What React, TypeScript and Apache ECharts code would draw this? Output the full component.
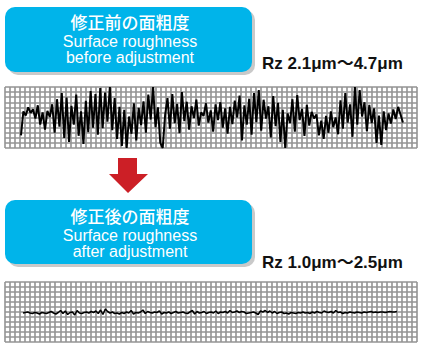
import React, { useEffect, useRef } from "react";
import * as echarts from "echarts";

// Surface profile before adjustment (grid units 0..12)
const beforeProfile: number[] = [
  2.5, 7.2, 6.4, 8.0, 6.9, 7.6, 5.8, 8.4, 4.6, 7.0,
  3.6, 7.3, 6.1, 8.6, 3.0, 9.6, 4.2, 10.8, 2.0, 9.9,
  1.2, 8.3, 4.6, 10.5, 2.4, 7.2, 0.8, 9.3, 3.1, 11.2,
  4.0, 10.6, 2.6, 11.8, 3.9, 10.9, 5.2, 12.0, 3.5, 9.8,
  1.8, 8.1, 0.4, 7.5, 0.0, 6.2, 2.8, 8.8, 1.5, 7.9,
  4.5, 9.2, 3.0, 10.5, 5.6, 12.0, 4.1, 8.0, 1.0, 0.0,
  6.5, 9.8, 3.8, 10.6, 4.9, 8.7, 2.9, 11.0, 5.3, 9.1,
  3.6, 8.2, 5.9, 9.5, 4.4, 7.0, 6.3, 8.8, 5.0, 7.4,
  3.2, 8.6, 5.5, 9.0, 4.0, 7.8, 2.8, 8.1, 4.7, 9.3,
  6.0, 10.3, 1.5, 8.4, 4.6, 9.7, 2.6, 10.8, 5.1, 11.4,
  3.4, 9.5, 5.8, 8.2, 2.1, 10.2, 4.3, 8.9, 1.2, 7.5,
  0.0, 6.8, 4.9, 9.6, 3.2, 10.4, 5.5, 7.7, 2.4, 8.5,
  4.4, 7.1, 5.8, 6.6, 2.5, 5.4, 1.8, 6.3, 3.0, 7.2,
  4.1, 6.0, 2.7, 9.4, 3.8, 10.8, 5.0, 8.6, 2.2, 12.0,
  4.6, 11.4, 6.2, 9.0, 3.3, 8.5, 4.9, 7.8, 1.0, 6.4,
  0.6, 7.2, 3.5, 6.8, 4.8, 7.6, 5.7, 8.1, 6.6, 5.0,
];

// Surface profile after adjustment (grid units 0..12)
const afterProfile: number[] = [
  5.8, 5.9, 6.0, 5.8, 5.7, 5.9, 5.8, 5.6, 5.9, 5.8,
  5.7, 5.9, 6.1, 5.8, 5.6, 5.9, 6.3, 5.7, 6.2, 5.5,
  5.9, 6.0, 5.4, 6.3, 5.8, 5.7, 5.9, 6.0, 5.8, 6.1,
  5.9, 6.2, 5.7, 6.4, 5.5, 6.6, 6.1, 5.8, 6.0, 5.7,
  5.8, 5.6, 5.9, 5.7, 6.0, 5.8, 6.3, 5.6, 5.9, 5.8,
  6.0, 6.4, 5.7, 6.1, 5.9, 5.8, 6.0, 5.9, 6.2, 5.6,
  5.9, 5.8, 6.0, 5.7, 5.9, 6.1, 5.8, 5.9, 6.0, 5.8,
  5.7, 6.0, 6.3, 5.6, 6.1, 5.8, 5.9, 6.1, 5.7, 5.9,
  6.0, 5.8, 6.2, 5.7, 6.0, 5.9, 6.1, 5.8, 6.3, 5.9,
  6.0, 6.2, 5.9, 6.1, 6.0, 5.7, 5.8, 5.9, 6.0, 5.8,
  5.5, 6.2, 6.0, 6.3, 5.9, 6.2, 5.8, 6.1, 5.7, 5.9,
  6.0, 5.7, 5.8, 5.6, 5.9, 5.8, 5.7, 5.9, 5.8, 6.0,
  5.8, 5.9, 5.7, 6.0, 5.8, 6.1, 5.9, 5.8, 6.2, 6.0,
  5.9, 6.1, 5.8, 6.3, 5.9, 6.0, 5.7, 5.9, 5.8, 6.0,
  5.9, 5.8, 6.0, 5.9, 5.8, 6.0, 5.9, 6.0, 6.1, 5.9,
  6.0, 5.9, 6.0, 6.0, 5.9, 6.0, 6.1, 6.0, 6.0, 6.1,
];

// sampled span along the chart paper (grid cells)
const beforeSpan = [3.18, 79.2];
const afterSpan = [3.58, 78.0];

const titlesJa = ["修正前の面粗度", "修正後の面粗度"];
const titlesEn1 = ["Surface roughness", "Surface roughness"];
const titlesEn2 = ["before adjustment", "after adjustment"];
const rzLabels = ["Rz 2.1μm〜4.7μm", "Rz 1.0μm〜2.5μm"];

const toSeries = (vals: number[], span: number[]) => {
  const step = (span[1] - span[0]) / (vals.length - 1);
  return vals.map((v, i) => [span[0] + i * step, v]);
};

const GRID_COLS = 82;
const GRID_ROWS = 12;

export default function App() {
  const ref = useRef<HTMLDivElement>(null);
  useEffect(() => {
    if (!ref.current) return;
    const chart = echarts.init(ref.current, undefined, { renderer: "svg" });
    const gridLine = { show: true, lineStyle: { color: "#939393", width: 1.6 } };
    const xAxisBase = {
      type: "value" as const,
      min: 0,
      max: GRID_COLS,
      interval: 1,
      axisLine: { show: false },
      axisTick: { show: false },
      axisLabel: { show: false },
      splitLine: gridLine,
    };
    const yAxisBase = {
      type: "value" as const,
      min: 0,
      max: GRID_ROWS,
      interval: 1,
      axisLine: { show: false },
      axisTick: { show: false },
      axisLabel: { show: false },
      splitLine: gridLine,
    };
    const boxes = [
      { top: 7, h: 65, jaY: 21, en1Y: 41, en2Y: 57, rzY: 63 },
      { top: 200, h: 64, jaY: 215, en1Y: 235, en2Y: 251, rzY: 262 },
    ];
    const graphics: any[] = [];
    const addText = (x: number, y: number, text: string, font: string, fill: string, align = "center") => {
      graphics.push({
        type: "text",
        x,
        y,
        style: { text, fill, font, align, verticalAlign: "middle" },
        z: 3,
      });
    };
    boxes.forEach((b, i) => {
      graphics.push({
        type: "rect",
        shape: { x: 8, y: b.top + 3, width: 247, height: b.h, r: 10 },
        style: { fill: "#c9c9c9" },
        z: 1,
      });
      graphics.push({
        type: "rect",
        shape: { x: 5, y: b.top, width: 247, height: b.h, r: 10 },
        style: { fill: "#00b4ea" },
        z: 2,
      });
      addText(130, b.jaY, titlesJa[i], "500 17px 'Noto Sans CJK JP'", "#ffffff");
      addText(130, b.en1Y, titlesEn1[i], "16px 'Liberation Sans'", "#ffffff");
      addText(130, b.en2Y, titlesEn2[i], "16px 'Liberation Sans'", "#ffffff");
      addText(262, b.rzY, rzLabels[i], "bold 17px 'Liberation Sans', 'Noto Sans CJK JP'", "#111111", "left");
    });
    graphics.push({
      type: "polygon",
      shape: {
        points: [
          [118, 158],
          [137, 158],
          [137, 174],
          [148, 174],
          [128, 193],
          [109, 174],
          [118, 174],
        ],
      },
      style: { fill: "#cc1f26" },
    });

    chart.setOption({
      animation: false,
      backgroundColor: "#ffffff",
      grid: [
        { left: 5, top: 87, width: 412, height: 61 },
        { left: 5, top: 282, width: 412, height: 60 },
      ],
      xAxis: [
        { ...xAxisBase, gridIndex: 0 },
        { ...xAxisBase, gridIndex: 1 },
      ],
      yAxis: [
        { ...yAxisBase, gridIndex: 0 },
        { ...yAxisBase, gridIndex: 1 },
      ],
      series: [
        {
          type: "line",
          xAxisIndex: 0,
          yAxisIndex: 0,
          data: toSeries(beforeProfile, beforeSpan),
          showSymbol: false,
          lineStyle: { color: "#000000", width: 2 },
          silent: true,
        },
        {
          type: "line",
          xAxisIndex: 1,
          yAxisIndex: 1,
          data: toSeries(afterProfile, afterSpan),
          showSymbol: false,
          lineStyle: { color: "#000000", width: 1.5 },
          silent: true,
        },
      ],
      graphic: graphics,
    });
    return () => chart.dispose();
  }, []);
  return (
    <div
      ref={ref}
      style={{ position: "fixed", left: 0, top: 0, width: 422, height: 349 }}
    />
  );
}
